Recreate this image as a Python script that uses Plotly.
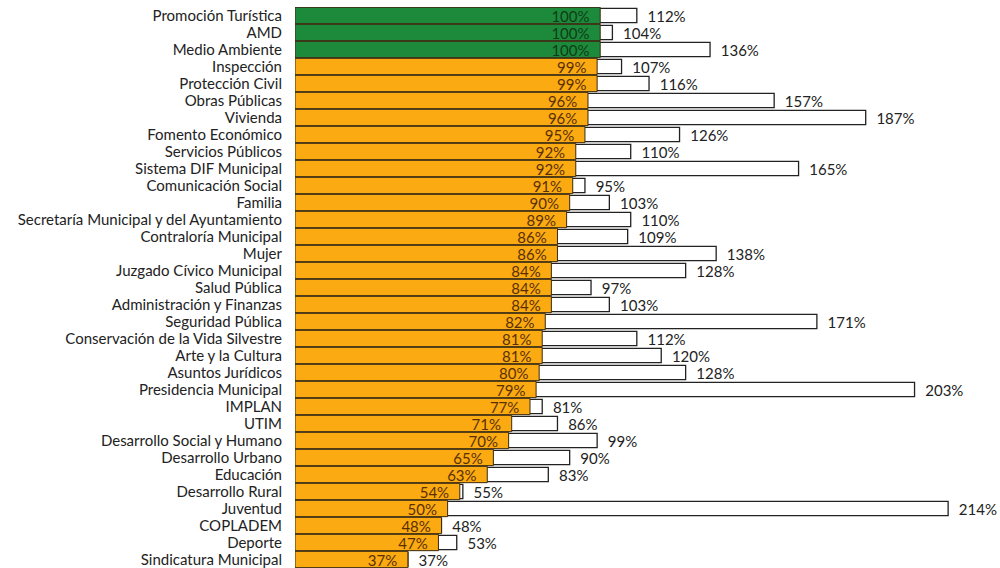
import plotly.graph_objects as go

categories = [
    "Promoción Turística", "AMD", "Medio Ambiente", "Inspección", "Protección Civil",
    "Obras Públicas", "Vivienda", "Fomento Económico", "Servicios Públicos",
    "Sistema DIF Municipal", "Comunicación Social", "Familia",
    "Secretaría Municipal y del Ayuntamiento", "Contraloría Municipal", "Mujer",
    "Juzgado Cívico Municipal", "Salud Pública", "Administración y Finanzas",
    "Seguridad Pública", "Conservación de la Vida Silvestre", "Arte y la Cultura",
    "Asuntos Jurídicos", "Presidencia Municipal", "IMPLAN", "UTIM",
    "Desarrollo Social y Humano", "Desarrollo Urbano", "Educación", "Desarrollo Rural",
    "Juventud", "COPLADEM", "Deporte", "Sindicatura Municipal",
]
avance = [100, 100, 100, 99, 99, 96, 96, 95, 92, 92, 91, 90, 89, 86, 86, 84, 84, 84,
          82, 81, 81, 80, 79, 77, 71, 70, 65, 63, 54, 50, 48, 47, 37]
meta = [112, 104, 136, 107, 116, 157, 187, 126, 110, 165, 95, 103, 110, 109, 138, 128,
        97, 103, 171, 112, 120, 128, 203, 81, 86, 99, 90, 83, 55, 214, 48, 53, 37]

GREEN = "#1d8a3b"
ORANGE = "#fbaa12"
FONT = "Lato"
FS = 15

bar_colors = [GREEN if v >= 100 else ORANGE for v in avance]
inner_text_colors = ["#0d3d18" if v >= 100 else "#5a3000" for v in avance]

fig = go.Figure()
fig.add_trace(go.Bar(
    y=categories, x=meta, orientation="h",
    marker=dict(color="white", line=dict(color="#222222", width=1.3)),
    width=0.84,
    text=[f"  {v}%" for v in meta], textposition="outside",
    textfont=dict(family=FONT, size=FS, color="#222222"),
    constraintext="none", cliponaxis=False, hoverinfo="x+y", showlegend=False,
))
fig.add_trace(go.Bar(
    y=categories, x=avance, orientation="h",
    marker=dict(color=bar_colors, line=dict(color="#3a2a10", width=1)),
    width=0.96,
    text=[f"{v}%  " for v in avance], textposition="inside", insidetextanchor="end",
    textfont=dict(family=FONT, size=FS, color=inner_text_colors),
    constraintext="none", hoverinfo="x+y", showlegend=False,
))

fig.update_layout(
    width=1000, height=568,
    barmode="overlay",
    paper_bgcolor="white", plot_bgcolor="white",
    margin=dict(l=295, r=0, t=7, b=0, autoexpand=False),
    font=dict(family=FONT, size=FS, color="#222222"),
    xaxis=dict(range=[0, 231], visible=False, fixedrange=True, automargin=False),
    yaxis=dict(range=[32.5, -0.5], showgrid=False, zeroline=False, showline=False,
               ticks="", ticklabelstandoff=12, automargin=False,
               tickmode="array", tickvals=categories, ticktext=categories,
               tickfont=dict(family=FONT, size=FS, color="#222222")),
)

fig.write_html("out.html", config={"displayModeBar": False},
               post_script="document.body.style.margin='0';")
